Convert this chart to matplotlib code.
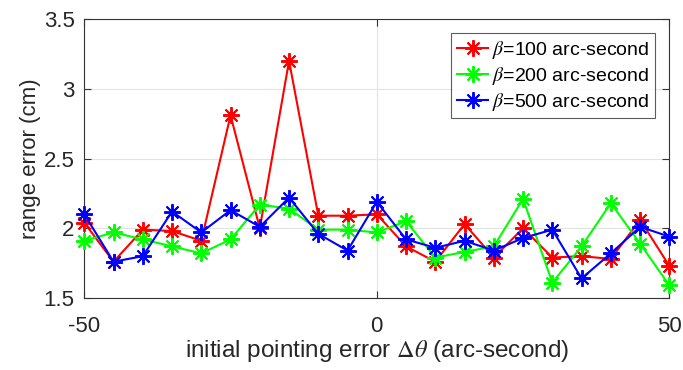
import matplotlib
matplotlib.use("Agg")
import matplotlib.pyplot as plt

x = [-50, -45, -40, -35, -30, -25, -20, -15, -10, -5, 0, 5, 10, 15, 20, 25, 30, 35, 40, 45, 50]
beta100 = [2.04, 1.76, 1.99, 1.98, 1.91, 2.81, 2.00, 3.20, 2.09, 2.09, 2.10,
           1.87, 1.76, 2.03, 1.79, 2.00, 1.79, 1.80, 1.78, 2.06, 1.73]
beta200 = [1.91, 1.97, 1.92, 1.87, 1.82, 1.92, 2.17, 2.14, 1.99, 1.99, 1.97,
           2.05, 1.79, 1.83, 1.87, 2.21, 1.61, 1.87, 2.18, 1.89, 1.59]
beta500 = [2.10, 1.76, 1.80, 2.12, 1.97, 2.13, 2.01, 2.22, 1.96, 1.84, 2.19,
           1.92, 1.86, 1.91, 1.84, 1.93, 1.99, 1.64, 1.82, 2.01, 1.94]
labels = [r"$\beta$=100 arc-second", r"$\beta$=200 arc-second", r"$\beta$=500 arc-second"]
colors = ["#ff0000", "#00ff00", "#0000ff"]
xticks = [-50, 0, 50]
yticks = [1.5, 2, 2.5, 3, 3.5]
yticklabels = ["1.5", "2", "2.5", "3", "3.5"]

plt.rcParams['font.family'] = ['Liberation Sans', 'DejaVu Sans']
plt.rcParams['mathtext.fontset'] = 'stix'
plt.rcParams['axes.unicode_minus'] = False

fig = plt.figure(figsize=(6.83, 3.70), dpi=100)
ax = fig.add_axes([0.1234, 0.1946, 0.98 - 0.1234, 0.9486 - 0.1946])

for y, lab, c in zip([beta100, beta200, beta500], labels, colors):
    ax.plot(x, y, color=c, lw=1.5, marker=(8, 2, 0), markersize=12, markeredgewidth=1.4,
            markeredgecolor=c, label=lab, clip_on=False, zorder=3)

ax.set_xlim(-50, 50)
ax.set_ylim(1.5, 3.5)
ax.set_xticks(xticks)
ax.set_yticks(yticks)
ax.set_yticklabels(yticklabels)
ax.grid(True, color="#e3e3e3", lw=0.8)
ax.set_axisbelow(True)
ax.tick_params(direction='in', top=True, right=True, labelsize=16, length=5, color="#333333",
               labelcolor="#262626")
ax.tick_params(axis='x', pad=13)
ax.tick_params(axis='y', pad=7)
for s in ax.spines.values():
    s.set_color("#333333")
    s.set_linewidth(0.8)
ax.set_xlabel(r"initial pointing error $\Delta\theta$ (arc-second)", fontsize=17.5, color="#262626", labelpad=1)
ax.set_ylabel("range error (cm)", fontsize=16, color="#262626", labelpad=2)
leg = ax.legend(loc='upper right', fontsize=14, frameon=True, fancybox=False,
                edgecolor="#333333", borderaxespad=0.72, handlelength=1.6,
                handletextpad=0.2, borderpad=0.3, labelspacing=0.2)
leg.get_frame().set_linewidth(0.8)

fig.savefig("out.png", dpi=100)
